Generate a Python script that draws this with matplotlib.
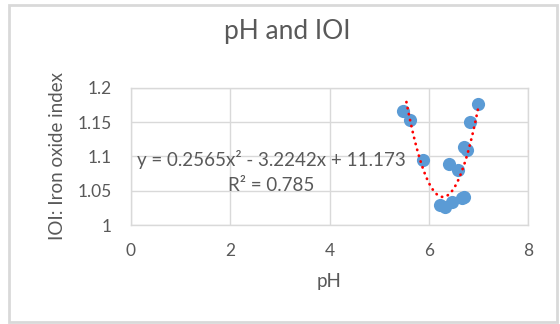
import matplotlib.pyplot as plt
import numpy as np
from matplotlib.patches import Rectangle

plt.rcParams["font.family"] = ["Lato", "DejaVu Sans"]

# pH vs iron oxide index
ph = [5.49, 5.63, 5.88, 6.23, 6.33, 6.47, 6.67, 6.71, 6.40, 6.58, 6.71, 6.77, 6.83, 7.00]
ioi = [1.166, 1.153, 1.095, 1.029, 1.027, 1.034, 1.039, 1.041, 1.089, 1.081, 1.114, 1.109, 1.151, 1.177]

# polynomial trendline coefficients (a, b, c) as shown on the chart
coef = [0.2565, -3.2242, 11.173]
r2 = 0.785
trend_range = [5.55, 7.0]

xticks = [0, 2, 4, 6, 8]
yticks = [1, 1.05, 1.1, 1.15, 1.2]

grey = "#595959"
grid = "#d9d9d9"

fig = plt.figure(figsize=(5.6, 3.24), dpi=100)
ax = fig.add_axes([131 / 560, 1 - 225 / 324, (528 - 131) / 560, (225 - 88) / 324])

ax.scatter(ph, ioi, s=90, color="#5b9bd5", zorder=3, linewidths=0)

xs = np.linspace(trend_range[0], trend_range[1], 200)
ax.plot(xs, np.polyval(coef, xs), color="#ff0000", lw=2,
        linestyle=(0, (0.1, 2.1)), dash_capstyle="round", zorder=4)

ax.set_xlim(0, 8)
ax.set_ylim(1, 1.2)
ax.set_xticks(xticks)
ax.set_yticks(yticks)
ax.set_xticklabels([str(t) for t in xticks])
ax.set_yticklabels(["1", "1.05", "1.1", "1.15", "1.2"])
ax.tick_params(length=0, labelsize=12.5, labelcolor=grey)
ax.tick_params(axis="y", pad=14)
ax.tick_params(axis="x", pad=13)
ax.grid(True, color=grid, lw=1)
ax.set_axisbelow(True)
for s in ax.spines.values():
    s.set_color(grid)
    s.set_linewidth(1)

ax.set_xlabel("pH", fontsize=13.5, color=grey, labelpad=10)
ax.set_ylabel("IOI: Iron oxide index", fontsize=13.5, color=grey, labelpad=8)

eq = f"y = {coef[0]}x² - {-coef[1]}x + {coef[2]}"
ax.text(0.13, 1.0955, eq, fontsize=13.5, color=grey, ha="left", va="center")
ax.text(2.82, 1.058, f"R² = {r2}", fontsize=13.5, color=grey, ha="center", va="center")

fig.text(287 / 560, 1 - 32 / 324, "pH and IOI", fontsize=19, color=grey, ha="center", va="center")

fig.patches.append(Rectangle((9 / 560, 2 / 324), 548 / 560, 317 / 324, transform=fig.transFigure,
                             fill=False, edgecolor=grid, lw=2))

fig.savefig("out.png", dpi=100)
plt.close(fig)
